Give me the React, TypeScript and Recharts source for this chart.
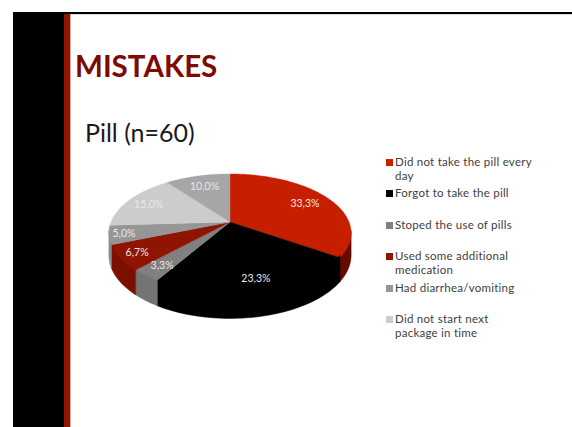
import { PieChart, Pie, Legend } from 'recharts'

const categories = [
  'Did not take the pill every\nday',
  'Forgot to take the pill',
  'Stoped the use of pills',
  'Used some additional\nmedication',
  'Had diarrhea/vomiting',
  'Did not start next\npackage in time',
  '',
]
const shares = [33.3, 23.3, 3.3, 6.7, 5.0, 15.0, 10.0]
const topColors = ['#c81e00', '#000000', '#808080', '#8f1402', '#969696', '#cccccc', '#a6a6a6']
const wallColors = ['#640a00', '#000000', '#747474', '#7a1000', '#8a8a8a', '#cccccc', '#a6a6a6']
const labelRadii = [0.76, 0.85, 0.83, 0.86, 0.88, 0.8, 0.76]

const data = categories.map((name, i) => ({
  name,
  value: shares[i],
  fill: topColors[i],
  wall: wallColors[i],
}))

// the reference pie is a perspective disc, so project each point of the flat circle
const TILT_A = 57 / 119
const TILT_K = 0.186
const DEPTH = 21.5
const RAD = Math.PI / 180

// angle is recharts' angle in degrees, r is 0..1 of the outer radius
function project(cx: number, cy: number, R: number, angle: number, r = 1, drop = 0) {
  const X = Math.cos(angle * RAD) * r
  const Y = -Math.sin(angle * RAD) * r
  const w = 1 - TILT_K * Y
  return {
    x: cx + (R * X) / w,
    y: cy + (R * TILT_A * Y) / w + (drop * DEPTH) / w,
  }
}

function arcPoints(cx: number, cy: number, R: number, from: number, to: number, drop = 0) {
  const steps = Math.max(2, Math.ceil(Math.abs(to - from) / 2))
  const pts = []
  for (let i = 0; i <= steps; i++) {
    const p = project(cx, cy, R, from + ((to - from) * i) / steps, 1, drop)
    pts.push(`${p.x.toFixed(2)},${p.y.toFixed(2)}`)
  }
  return pts
}

function Slice3D(props: any) {
  const { cx, cy, outerRadius, startAngle, endAngle, fill, wall } = props
  const top = arcPoints(cx, cy, outerRadius, startAngle, endAngle)
  // visible outer wall: from the right silhouette point round the front to the left one
  const hi = Math.min(startAngle, -10.7)
  const lo = Math.max(endAngle, -169.3)
  return (
    <g>
      {hi > lo && (
        // upper edge tucked under the top face, otherwise a pale seam shows on the black slice
        <polygon
          points={[...arcPoints(cx, cy, outerRadius, hi, lo, -0.1), ...arcPoints(cx, cy, outerRadius, lo, hi, 1)].join(' ')}
          fill={wall}
          stroke={wall}
          strokeWidth={0.5}
        />
      )}
      <polygon points={[`${cx},${cy}`, ...top].join(' ')} fill={fill} stroke={fill} strokeWidth={0.4} />
    </g>
  )
}

function renderLabel(props: any) {
  const { cx, cy, outerRadius, midAngle, index } = props
  const p = project(cx, cy, outerRadius, midAngle, labelRadii[index])
  return (
    <text
      x={p.x}
      y={p.y}
      fill="#e8e8e8"
      fontFamily="Lato, sans-serif"
      fontSize={10.5}
      textAnchor="middle"
      dominantBaseline="central"
    >
      {shares[index].toFixed(1).replace('.', ',')}%
    </text>
  )
}

function LegendList() {
  return (
    <div style={{ fontFamily: 'Lato, sans-serif', fontSize: 11.5, lineHeight: '14px', color: '#404040', letterSpacing: 0.25 }}>
      {data
        .filter((d) => d.name)
        .map((d) => (
          <div key={d.name} style={{ height: 31.4, position: 'relative', paddingLeft: 9, whiteSpace: 'pre-line' }}>
            <span style={{ position: 'absolute', left: 0, top: 4, width: 7, height: 7, background: d.fill }} />
            {d.name}
          </div>
        ))}
    </div>
  )
}

export default function App() {
  return (
    <div style={{ position: 'fixed', left: 0, top: 0, width: 572, height: 427, background: '#fff', overflow: 'hidden' }}>
      <div style={{ position: 'absolute', left: 13, top: 12, width: 559, height: 2, background: '#000' }} />
      <div style={{ position: 'absolute', left: 70, top: 14, width: 502, height: 1, background: '#ddd' }} />
      <div style={{ position: 'absolute', left: 13, top: 12, width: 51, height: 415, background: '#000' }} />
      <div style={{ position: 'absolute', left: 64, top: 14, width: 6, height: 413, background: '#8f1402' }} />
      <div style={{ position: 'absolute', left: 70, top: 14, width: 1, height: 413, background: '#e0a8a0' }} />
      <div
        style={{
          position: 'absolute',
          left: 75,
          top: 46,
          fontFamily: 'Lato, sans-serif',
          fontWeight: 700,
          fontSize: 29.5,
          lineHeight: '40px',
          color: '#7f0a00',
        }}
      >
        MISTAKES
      </div>
      <div
        style={{
          position: 'absolute',
          left: 85,
          top: 116,
          fontFamily: 'Lato, sans-serif',
          fontSize: 25,
          lineHeight: '32px',
          color: '#1a1a1a',
        }}
      >
        Pill (n=60)
      </div>
      <div style={{ position: 'absolute', left: 0, top: 0 }}>
        <PieChart width={572} height={427} margin={{ top: 0, right: 0, bottom: 0, left: 0 }}>
          <Pie
            data={data}
            dataKey="value"
            nameKey="name"
            cx={230}
            cy={222}
            outerRadius={119}
            startAngle={90}
            endAngle={-270}
            stroke="none"
            isAnimationActive={false}
            shape={Slice3D}
            label={renderLabel}
            labelLine={false}
          />
          <Legend
            layout="vertical"
            content={LegendList}
            wrapperStyle={{ position: 'absolute', left: 386, top: 155, width: 180, bottom: 'auto' }}
          />
        </PieChart>
      </div>
    </div>
  )
}
